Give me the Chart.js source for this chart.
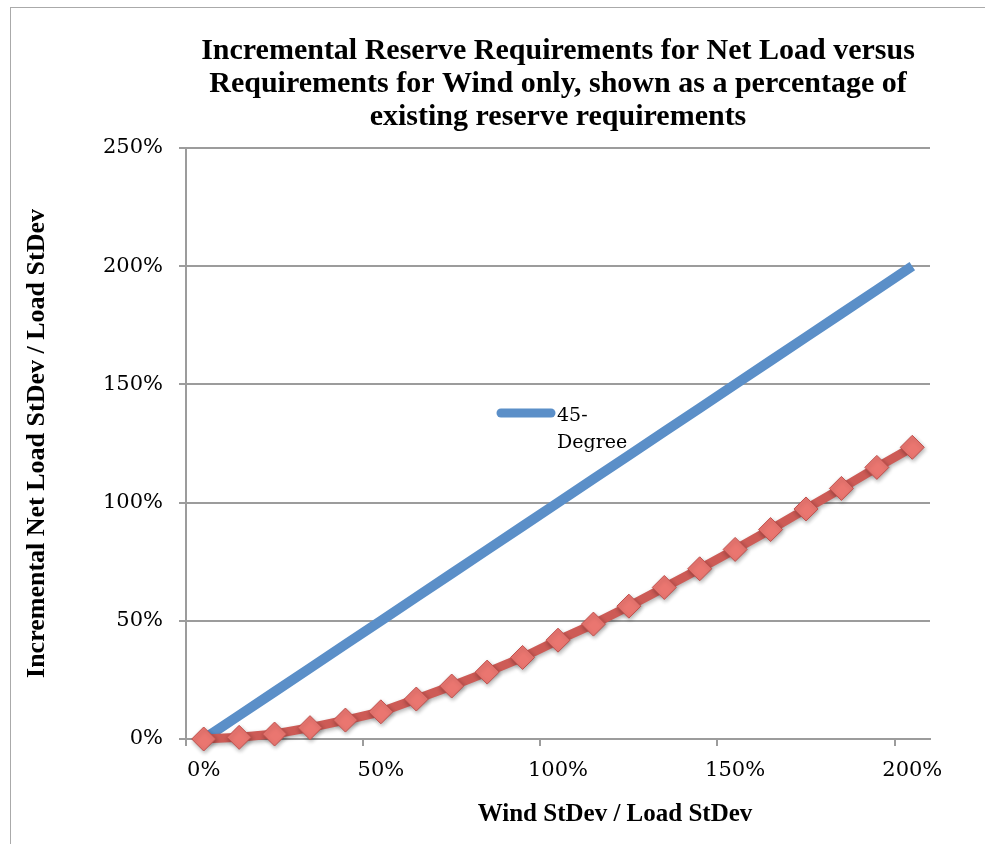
<!DOCTYPE html>
<html>
<head>
<meta charset="utf-8">
<script src="https://cdn.jsdelivr.net/npm/chart.js@4"></script>
<style>
  html, body { margin: 0; padding: 0; background: #fff; }
  #wrap { position: relative; width: 994px; height: 844px; }
  #frame { position: absolute; left: 10px; top: 7px; width: 974px; height: 850px;
           border-left: 1px solid #aaa; border-top: 1px solid #aaa; pointer-events: none; }
  canvas { position: absolute; left: 0; top: 0; }
</style>
</head>
<body>
<div id="wrap">
  <canvas id="reserveChart" width="994" height="844"></canvas>
  <div id="frame"></div>
</div>
<script>
// x categories: wind StDev / load StDev
const windRatio = ['0%', '10%', '20%', '30%', '40%', '50%', '60%', '70%', '80%', '90%', '100%',
                   '110%', '120%', '130%', '140%', '150%', '160%', '170%', '180%', '190%', '200%'];
// 45-degree reference line (percent)
const fortyFive = [0, 10, 20, 30, 40, 50, 60, 70, 80, 90, 100,
                   110, 120, 130, 140, 150, 160, 170, 180, 190, 200];
// incremental net load StDev / load StDev (percent)
const netLoad = [0, 0.7, 2.1, 4.8, 8.0, 11.5, 16.9, 22.4, 28.3, 34.5, 41.8,
                 48.6, 56.2, 64.1, 72.0, 80.2, 88.6, 97.3, 106.0, 114.9, 123.4];
const yTicks = [0, 50, 100, 150, 200, 250];

const titleLines = ['Incremental Reserve Requirements for Net Load versus',
                    'Requirements for Wind only, shown as a percentage of',
                    'existing reserve requirements'];

const BLUE = '#5b8fc8';
const RED = '#cd5b56';
const GRID = '#9c9c9c';
const SERIF = '"DejaVu Serif", serif';
const SERIF_B = '"Liberation Serif", "Times New Roman", serif';

// soft shadow under the red series, like the original
const shadowPlugin = {
    id: 'shadow',
    beforeDatasetDraw(chart, args) {
        if (args.index !== 1) return;
        const ctx = chart.ctx;
        ctx.save();
        ctx.shadowColor = 'rgba(0,0,0,0.3)';
        ctx.shadowBlur = 4;
        ctx.shadowOffsetX = 1;
        ctx.shadowOffsetY = 2;
    },
    afterDatasetDraw(chart, args) {
        if (args.index !== 1) return;
        chart.ctx.restore();
    }
};

// legend inside plot + x axis title (offset like the original)
const extrasPlugin = {
    id: 'extras',
    afterDraw(chart) {
        const ctx = chart.ctx;
        const a = chart.chartArea;
        ctx.save();
        // legend swatch
        ctx.strokeStyle = BLUE;
        ctx.lineWidth = 9;
        ctx.lineCap = 'round';
        ctx.beginPath();
        ctx.moveTo(a.left + 315, 413);
        ctx.lineTo(a.left + 365, 413);
        ctx.stroke();
        ctx.fillStyle = '#000';
        ctx.font = '19px ' + SERIF;
        ctx.textAlign = 'left';
        ctx.textBaseline = 'middle';
        ctx.fillText('45-', a.left + 371, 416);
        ctx.fillText('Degree', a.left + 371, 443);
        // x axis title
        ctx.font = 'bold 25px ' + SERIF_B;
        ctx.textAlign = 'center';
        ctx.fillText('Wind StDev / Load StDev', a.left + 429, 815);
        ctx.restore();
    }
};

new Chart(document.getElementById('reserveChart'), {
    type: 'line',
    data: {
        labels: windRatio,
        datasets: [{
            label: '45-Degree',
            data: fortyFive,
            borderColor: BLUE,
            borderWidth: 10,
            pointRadius: 0,
            tension: 0,
            clip: false,
            order: 1
        }, {
            label: 'Net Load',
            data: netLoad,
            borderColor: RED,
            borderWidth: 9,
            pointStyle: 'rectRot',
            pointRadius: 12,
            pointBackgroundColor: '#ea7670',
            pointBorderColor: '#c0504d',
            pointBorderWidth: 1,
            tension: 0,
            clip: false,
            order: 0
        }]
    },
    options: {
        responsive: false,
        animation: false,
        layout: { padding: { left: 10, right: 64, top: 0, bottom: 0 } },
        plugins: {
            legend: { display: false },
            tooltip: { enabled: false },
            title: {
                display: true,
                fullSize: false,
                text: titleLines,
                color: '#000',
                font: { family: SERIF_B, size: 30, weight: 'bold', lineHeight: 1.1 },
                padding: { top: 35, bottom: 14 }
            }
        },
        scales: {
            x: {
                offset: true,
                afterFit(scale) { scale.height = 105; },
                grid: {
                    offset: true,
                    drawOnChartArea: false,
                    drawTicks: true,
                    tickLength: 7,
                    lineWidth: 2,
                    color: ctx => (ctx.index !== undefined && ctx.index % 5 === 0) ? GRID : 'rgba(0,0,0,0)'
                },
                border: { display: true, color: GRID, width: 2 },
                ticks: {
                    autoSkip: false,
                    maxRotation: 0,
                    padding: 12,
                    color: '#000',
                    font: { family: SERIF, size: 21 },
                    callback(value, index) { return index % 5 === 0 ? windRatio[index] : ''; }
                }
            },
            y: {
                min: 0,
                max: 250,
                afterFit(scale) { scale.width = 176; },
                afterBuildTicks(scale) { scale.ticks = yTicks.map(v => ({ value: v })); },
                grid: { color: GRID, lineWidth: 2, tickLength: 7 },
                border: { display: true, color: GRID, width: 2 },
                ticks: {
                    padding: 16,
                    color: '#000',
                    font: { family: SERIF, size: 21 },
                    callback: v => v + '%'
                },
                title: {
                    display: true,
                    text: 'Incremental Net Load StDev / Load StDev',
                    color: '#000',
                    font: { family: SERIF_B, size: 26, weight: 'bold' },
                    padding: { top: 12, bottom: 0 }
                }
            }
        }
    },
    plugins: [shadowPlugin, extrasPlugin]
});
</script>
</body>
</html>
